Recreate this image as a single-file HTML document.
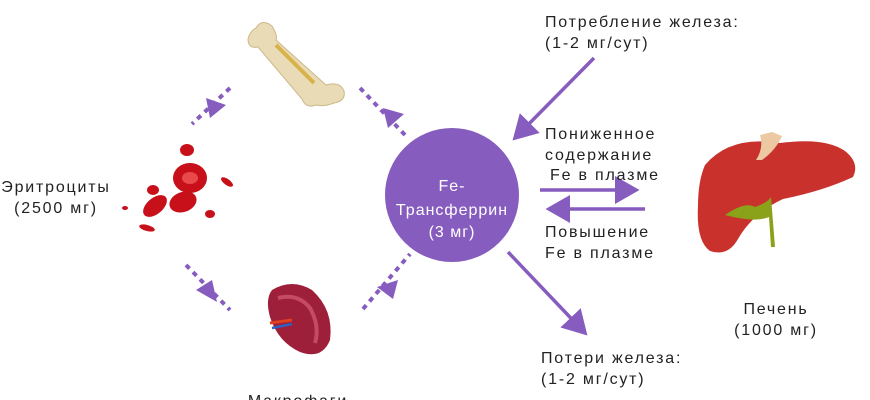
<!DOCTYPE html>
<html><head><meta charset="utf-8"><style>
html,body{margin:0;padding:0;background:#fff;width:870px;height:400px;overflow:hidden}
svg{display:block}
text{font-family:"Liberation Sans",sans-serif;fill:#222;font-size:16px;letter-spacing:1.8px}
</style></head><body>
<svg width="870" height="400" viewBox="0 0 870 400">
<defs>
<marker id="h" markerWidth="8" markerHeight="8" refX="6" refY="4" orient="auto" markerUnits="strokeWidth">
<path d="M0,0 L7,4 L0,8 Z" fill="#875cbf"/></marker>
</defs>
<!-- circle -->
<circle cx="452" cy="195" r="67" fill="#875cbf"/>
<text x="452" y="191" text-anchor="middle" style="fill:#fff;font-size:16px;letter-spacing:1px">Fe-</text>
<text x="452" y="215" text-anchor="middle" style="fill:#fff;font-size:16px;letter-spacing:1px">Трансферрин</text>
<text x="452" y="237" text-anchor="middle" style="fill:#fff;font-size:16px;letter-spacing:1px">(3 мг)</text>
<!-- solid arrows -->
<g stroke="#875cbf" stroke-width="3.5" fill="none">
<line x1="594" y1="58" x2="515" y2="138" marker-end="url(#h)"/>
<line x1="540" y1="190" x2="636" y2="190" marker-end="url(#h)"/>
<line x1="645" y1="209" x2="549" y2="209" marker-end="url(#h)"/>
<line x1="508" y1="252" x2="585" y2="333" marker-end="url(#h)"/>
</g>
<!-- dotted arrows -->
<g stroke="#875cbf" stroke-width="4" fill="none" stroke-dasharray="5 5">
<line x1="230" y1="88" x2="192" y2="124"/>
<line x1="405" y1="135" x2="360" y2="88"/>
<line x1="186" y1="265" x2="230" y2="310"/>
<line x1="363" y1="309" x2="410" y2="254"/>
</g>
<g fill="#875cbf">
<polygon points="206,98 226,105 210,118"/>
<polygon points="388,128 404,114 383,108"/>
<polygon points="196,290 212,280 217,302"/>
<polygon points="377,287 393,299 398,280"/>
</g>
<!-- bone -->
<g>
<path d="M256,28 q6,-10 16,-2 q6,10 4,14 l50,45 q14,-4 18,6 q2,10 -10,12 q-10,4 -18,2 q-10,4 -14,-6 l-44,-52 q-10,2 -10,-8 q2,-8 8,-11 z" fill="#e9dbb5" stroke="#cbb88a"/>
<path d="M276,45 l38,38" stroke="#d8b24a" stroke-width="4"/>
</g>
<!-- RBCs -->
<g fill="#c8101a">
<ellipse cx="190" cy="178" rx="17" ry="15"/>
<ellipse cx="183" cy="202" rx="14" ry="10" transform="rotate(-20 183 202)"/>
<ellipse cx="155" cy="206" rx="14" ry="8" transform="rotate(-40 155 206)"/>
<ellipse cx="153" cy="190" rx="6" ry="5"/>
<ellipse cx="187" cy="150" rx="7" ry="6"/>
<ellipse cx="227" cy="182" rx="7" ry="3" transform="rotate(35 227 182)"/>
<ellipse cx="210" cy="214" rx="5" ry="4"/>
<ellipse cx="147" cy="228" rx="8" ry="3" transform="rotate(15 147 228)"/>
<ellipse cx="125" cy="208" rx="3" ry="2"/>
</g>
<ellipse cx="190" cy="178" rx="8" ry="6" fill="#e84a4a"/>
<!-- spleen -->
<path d="M272,290 q20,-12 40,0 q22,20 18,50 q-8,20 -30,12 q-22,-10 -30,-35 q-5,-18 2,-27 z" fill="#9e1f3a"/>
<path d="M278,298 q20,-5 32,10 q10,18 5,35" stroke="#c44a66" stroke-width="4" fill="none"/>
<path d="M270,323 l22,-3" stroke="#e04020" stroke-width="3"/>
<path d="M272,328 l20,-4" stroke="#3060c0" stroke-width="2.5"/>
<!-- liver -->
<path d="M705,165 q25,-30 75,-22 q45,-6 65,8 q15,12 8,26 q-30,14 -70,22 q-30,14 -45,40 q-10,18 -28,12 q-14,-10 -12,-45 q0,-25 7,-41 z" fill="#c9322c"/>
<path d="M760,135 l12,-3 l10,4 q-6,14 -20,24 l-6,0 q8,-12 4,-25 z" fill="#ecc9a3"/>
<path d="M725,215 q20,-14 30,-8 q12,-4 16,-10 l4,50 l-4,0 l-2,-30 q-14,6 -44,-2 z" fill="#8aa21a"/>
<!-- labels -->
<text x="56" y="192" text-anchor="middle">Эритроциты</text>
<text x="56" y="213" text-anchor="middle">(2500 мг)</text>
<text x="545" y="27">Потребление железа:</text>
<text x="545" y="48">(1-2 мг/сут)</text>
<text x="545" y="139">Пониженное</text>
<text x="545" y="160">содержание</text>
<text x="550" y="180">Fe в плазме</text>
<text x="545" y="237">Повышение</text>
<text x="545" y="258">Fe в плазме</text>
<text x="776" y="314" text-anchor="middle">Печень</text>
<text x="776" y="335" text-anchor="middle">(1000 мг)</text>
<text x="541" y="363">Потери железа:</text>
<text x="541" y="384">(1-2 мг/сут)</text>
<text x="298" y="406" text-anchor="middle">Макрофаги</text>
</svg>
</body></html>
